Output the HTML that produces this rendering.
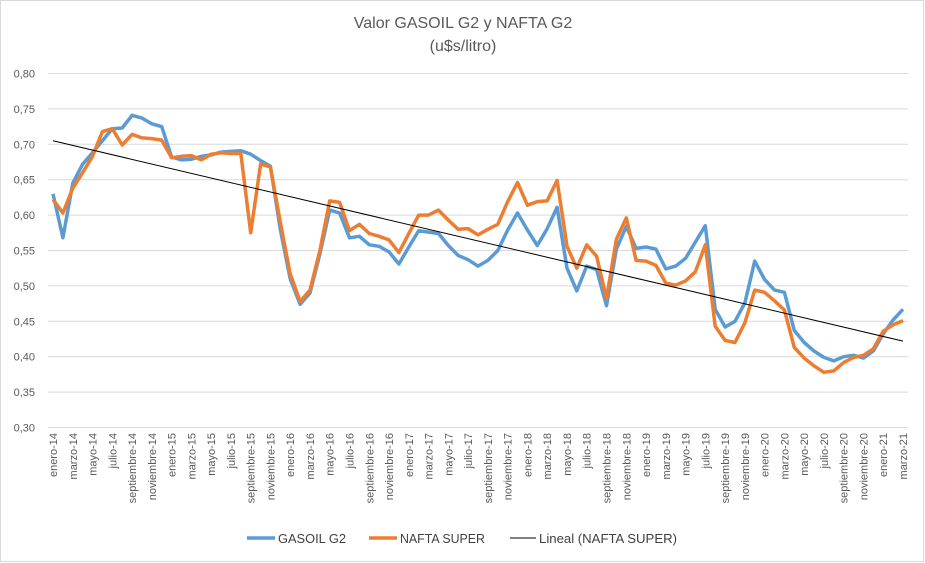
<!DOCTYPE html>
<html><head><meta charset="utf-8"><style>
body{margin:0;background:#fff}
svg{display:block;font-family:"Liberation Sans",sans-serif}
</style></head><body>
<svg id="s" width="925" height="563" viewBox="0 0 925 563">
<rect x="0.5" y="0.5" width="923" height="561" fill="#fff" stroke="#d9d9d9"/>
<text x="463" y="28" text-anchor="middle" font-size="16" fill="#595959">Valor GASOIL G2 y NAFTA G2</text>
<text x="463" y="51" text-anchor="middle" font-size="16" fill="#595959">(u$s/litro)</text>
<g id="g"></g>
<g font-size="13" fill="#404040">
<line x1="247" y1="538" x2="275" y2="538" stroke="#5b9bd5" stroke-width="3.5"/>
<text x="278" y="543" textLength="68" lengthAdjust="spacingAndGlyphs">GASOIL G2</text>
<line x1="369" y1="538" x2="397" y2="538" stroke="#ed7d31" stroke-width="3.5"/>
<text x="400" y="543" textLength="85" lengthAdjust="spacingAndGlyphs">NAFTA SUPER</text>
<line x1="510" y1="538" x2="536" y2="538" stroke="#000" stroke-width="1"/>
<text x="539" y="543" textLength="138" lengthAdjust="spacingAndGlyphs">Lineal (NAFTA SUPER)</text>
</g>
</svg>
<script>
var G=[.63,.568,.645,.672,.688,.705,.722,.723,.741,.737,.729,.725,
.682,.678,.679,.683,.685,.689,.690,.691,.686,.677,.669,.580,
.510,.474,.490,.545,.607,.603,.568,.570,.558,.556,.548,.531,
.555,.578,.576,.574,.557,.543,.537,.528,.536,.550,.579,.603,
.579,.557,.581,.611,.525,.493,.528,.523,.472,.552,.584,.553,
.555,.552,.524,.528,.539,.562,.585,.467,.442,.450,.476,.535,
.509,.494,.491,.437,.420,.408,.399,.394,.400,.402,.398,.408,.432,.452,.467];
var N=[.622,.603,.638,.660,.683,.718,.722,.699,.714,.709,.708,.706,
.681,.683,.684,.678,.686,.688,.687,.687,.575,.672,.668,.590,
.517,.478,.494,.550,.620,.618,.578,.587,.574,.570,.565,.547,
.574,.600,.600,.607,.593,.580,.581,.572,.580,.587,.619,.646,
.614,.619,.620,.649,.556,.525,.558,.542,.482,.566,.596,.536,
.535,.529,.504,.501,.507,.520,.558,.443,.423,.420,.448,.494,
.491,.479,.466,.413,.398,.387,.378,.380,.392,.399,.402,.411,.436,.445,.451];
var m=["enero","febrero","marzo","abril","mayo","junio","julio","agosto","septiembre","octubre","noviembre","diciembre"];
function X(i){return 53+i*850/86}
function Y(v){return 73.5+(0.8-v)*708}
var h="";
for(var k=0;k<=10;k++){var v=0.8-k*0.05,y=Y(v);
h+='<line x1="48" x2="908" y1="'+y+'" y2="'+y+'" stroke="#d9d9d9" stroke-width="1"/>';
h+='<text x="35" y="'+(y+4)+'" text-anchor="end" font-size="11" fill="#595959">'+v.toFixed(2).replace(".",",")+'</text>';}
for(var i=0;i<87;i+=2){var yr=14+Math.floor(i/12),lab=m[i%12]+"-"+yr,x=X(i)+4;
h+='<text transform="translate('+x+',433) rotate(-90)" text-anchor="end" font-size="11" fill="#595959">'+lab+'</text>';}
function P(a,c){return '<polyline fill="none" stroke="'+c+'" stroke-width="3.5" stroke-linejoin="round" points="'+a.map(function(v,i){return X(i).toFixed(1)+','+Y(v).toFixed(1)}).join(" ")+'"/>';}
h+=P(G,"#5b9bd5")+P(N,"#ed7d31");
h+='<line x1="'+X(0)+'" y1="'+Y(.705)+'" x2="'+X(86)+'" y2="'+Y(.422)+'" stroke="#000" stroke-width="1"/>';
document.getElementById("g").innerHTML=h;
</script>
</body></html>
